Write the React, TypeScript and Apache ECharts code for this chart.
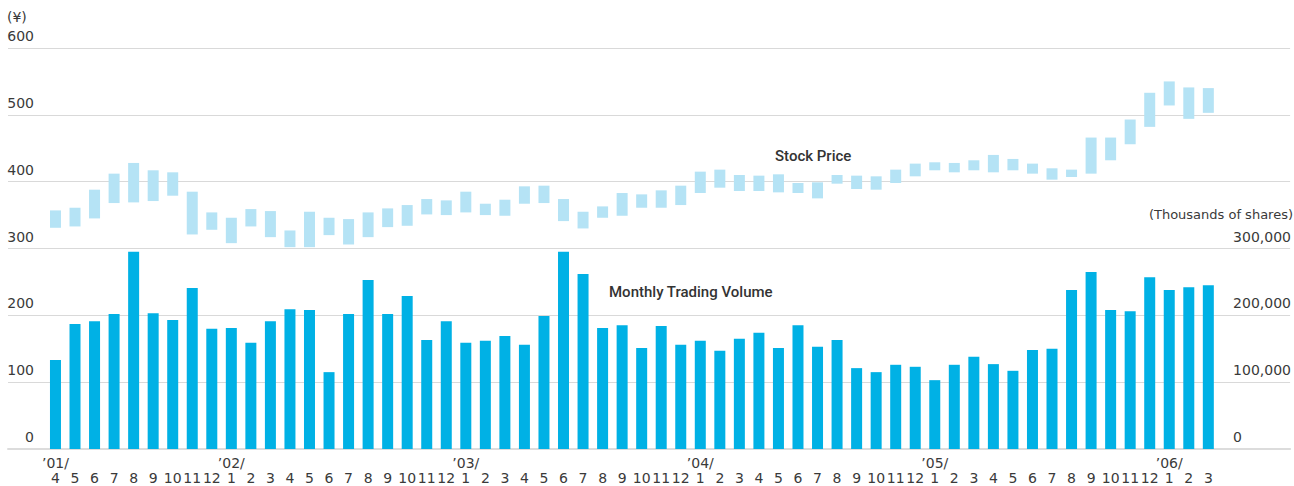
import React, { useEffect, useRef } from "react";
import * as echarts from "echarts";

// Months Apr 2001 – Mar 2006
const months = [
  "4","5","6","7","8","9","10","11","12",
  "1","2","3","4","5","6","7","8","9","10","11","12",
  "1","2","3","4","5","6","7","8","9","10","11","12",
  "1","2","3","4","5","6","7","8","9","10","11","12",
  "1","2","3","4","5","6","7","8","9","10","11","12",
  "1","2","3",
];
// year marker shown above month label (index -> label)
const yearMarks: Record<number, string> = { 0: "’01/", 9: "’02/", 21: "’03/", 33: "’04/", 45: "’05/", 57: "’06/" };

// Stock price monthly high / low (¥)
const priceHigh = [
  357, 361, 388, 412, 428, 417, 414, 385, 354, 346, 359, 356, 327, 355, 346, 344, 354, 360, 365, 374,
  372, 385, 367, 373, 393, 394, 374, 355, 363, 383, 381, 387, 394, 415, 418, 410, 409, 411, 398, 399, 410, 409,
  408, 418, 427, 429, 428, 432, 440, 434, 427, 420, 418, 466, 466, 493, 533, 550, 541, 540,
];
const priceLow = [
  331, 333, 345, 368, 369, 371, 379, 321, 328, 308, 333, 317, 302, 302, 320, 306, 317, 332, 334, 351,
  350, 354, 350, 349, 367, 368, 341, 330, 346, 349, 361, 361, 365, 383, 391, 386, 386, 384, 383, 375, 397, 389,
  388, 398, 408, 417, 414, 417, 414, 417, 412, 403, 407, 412, 432, 456, 482, 514, 494, 503,
];
// Monthly trading volume (thousands of shares)
const volume = [
  133000, 187000, 191000, 202000, 295000, 203000, 193000, 241000, 180000, 181000, 159000, 191000, 209000, 208000, 115000, 202000, 253000, 202000, 229000, 163000,
  191000, 159000, 162000, 169000, 156000, 199000, 295000, 262000, 181000, 185000, 151000, 184000, 156000, 162000, 147000, 165000, 174000, 151000, 185000, 153000, 163000, 121000,
  115000, 126000, 123000, 103000, 126000, 138000, 127000, 117000, 148000, 150000, 238000, 265000, 208000, 206000, 257000, 238000, 242000, 245000,
];

const priceTicks = { min: 0, max: 600, interval: 100 };
const volumeTicks = { min: 0, max: 600000, interval: 100000, shownMax: 300000 };

const TICK_FONT = "DejaVu Sans";
const NOTE_FONT = "Roboto";

export default function App() {
  const ref = useRef<HTMLDivElement>(null);

  useEffect(() => {
    if (!ref.current) return;
    const chart = echarts.init(ref.current, undefined, { renderer: "svg" });
    const categories = months.map((m, i) => (yearMarks[i] ? `${yearMarks[i]}\n${m}` : `\n${m}`));
    const rangeData = priceHigh.map((h, i) => h - priceLow[i]);

    const gridTop = 48;
    const gridHeight = 401;

    chart.setOption({
      animation: false,
      grid: [
        { left: 8, right: 1, top: gridTop, height: gridHeight },
        { left: 45.7, right: 75.9, top: gridTop, height: gridHeight },
      ],
      xAxis: [
        {
          type: "value",
          gridIndex: 0,
          min: 0,
          max: 1,
          axisLine: { show: true, lineStyle: { color: "#dcdcdc", width: 2 } },
          axisTick: { show: false },
          axisLabel: { show: false },
          splitLine: { show: false },
        },
        {
          type: "category",
          gridIndex: 1,
          data: categories,
          axisLine: { show: false },
          axisTick: { show: false },
          axisLabel: {
            interval: 0,
            margin: 6,
            fontSize: 14,
            lineHeight: 15,
            color: "#3a3a3a",
            fontFamily: TICK_FONT,
          },
        },
      ],
      yAxis: [
        {
          type: "value",
          gridIndex: 0,
          position: "left",
          min: priceTicks.min,
          max: priceTicks.max,
          interval: priceTicks.interval,
          axisLine: { show: false },
          axisTick: { show: false },
          splitLine: { show: true, lineStyle: { color: "#d9d9d9", width: 1 } },
          axisLabel: {
            inside: true,
            align: "right",
            verticalAlign: "bottom",
            margin: 26,
            fontSize: 14,
            lineHeight: 24,
            color: "#3a3a3a",
            fontFamily: TICK_FONT,
          },
        },
        {
          type: "value",
          gridIndex: 0,
          position: "right",
          min: volumeTicks.min,
          max: volumeTicks.max,
          interval: volumeTicks.interval,
          axisLine: { show: false },
          axisTick: { show: false },
          splitLine: { show: false },
          axisLabel: {
            inside: true,
            align: "left",
            verticalAlign: "bottom",
            margin: 57,
            fontSize: 14,
            lineHeight: 24,
            color: "#3a3a3a",
            fontFamily: TICK_FONT,
            formatter: (v: number) => (v <= volumeTicks.shownMax ? v.toLocaleString("en-US") : ""),
          },
        },
        { type: "value", gridIndex: 1, min: priceTicks.min, max: priceTicks.max, show: false, splitLine: { show: false } },
        { type: "value", gridIndex: 1, min: volumeTicks.min, max: volumeTicks.max, show: false, splitLine: { show: false } },
      ],
      series: [
        {
          name: "Monthly Trading Volume",
          type: "bar",
          xAxisIndex: 1,
          yAxisIndex: 3,
          data: volume,
          barWidth: 11,
          barGap: "-100%",
          itemStyle: { color: "#00b1e5" },
        },
        {
          name: "priceBase",
          type: "bar",
          xAxisIndex: 1,
          yAxisIndex: 2,
          stack: "price",
          data: priceLow,
          barWidth: 11,
          barGap: "-100%",
          itemStyle: { color: "rgba(0,0,0,0)" },
          silent: true,
        },
        {
          name: "Stock Price",
          type: "bar",
          xAxisIndex: 1,
          yAxisIndex: 2,
          stack: "price",
          data: rangeData,
          barWidth: 11,
          barGap: "-100%",
          itemStyle: { color: "#b5e3f5" },
        },
      ],
      graphic: [
        {
          type: "text",
          left: 7,
          top: 10,
          style: { text: "(¥)", fontSize: 14, fontFamily: TICK_FONT, fill: "#3a3a3a" },
        },
        {
          type: "text",
          right: 1,
          top: 208,
          style: { text: "(Thousands of shares)", fontSize: 13, fontFamily: TICK_FONT, fill: "#3a3a3a" },
        },
        {
          type: "text",
          left: 775,
          top: 148,
          style: { text: "Stock Price", fontSize: 15, fontWeight: 500, fontFamily: NOTE_FONT, fill: "#333" },
        },
        {
          type: "text",
          left: 609,
          top: 284,
          style: { text: "Monthly Trading Volume", fontSize: 15, fontWeight: 500, fontFamily: NOTE_FONT, fill: "#333" },
        },
      ],
    });
    return () => chart.dispose();
  }, []);

  return (
    <div
      ref={ref}
      style={{ position: "fixed", left: 0, top: 0, width: 1294, height: 486, background: "#fff" }}
    />
  );
}
